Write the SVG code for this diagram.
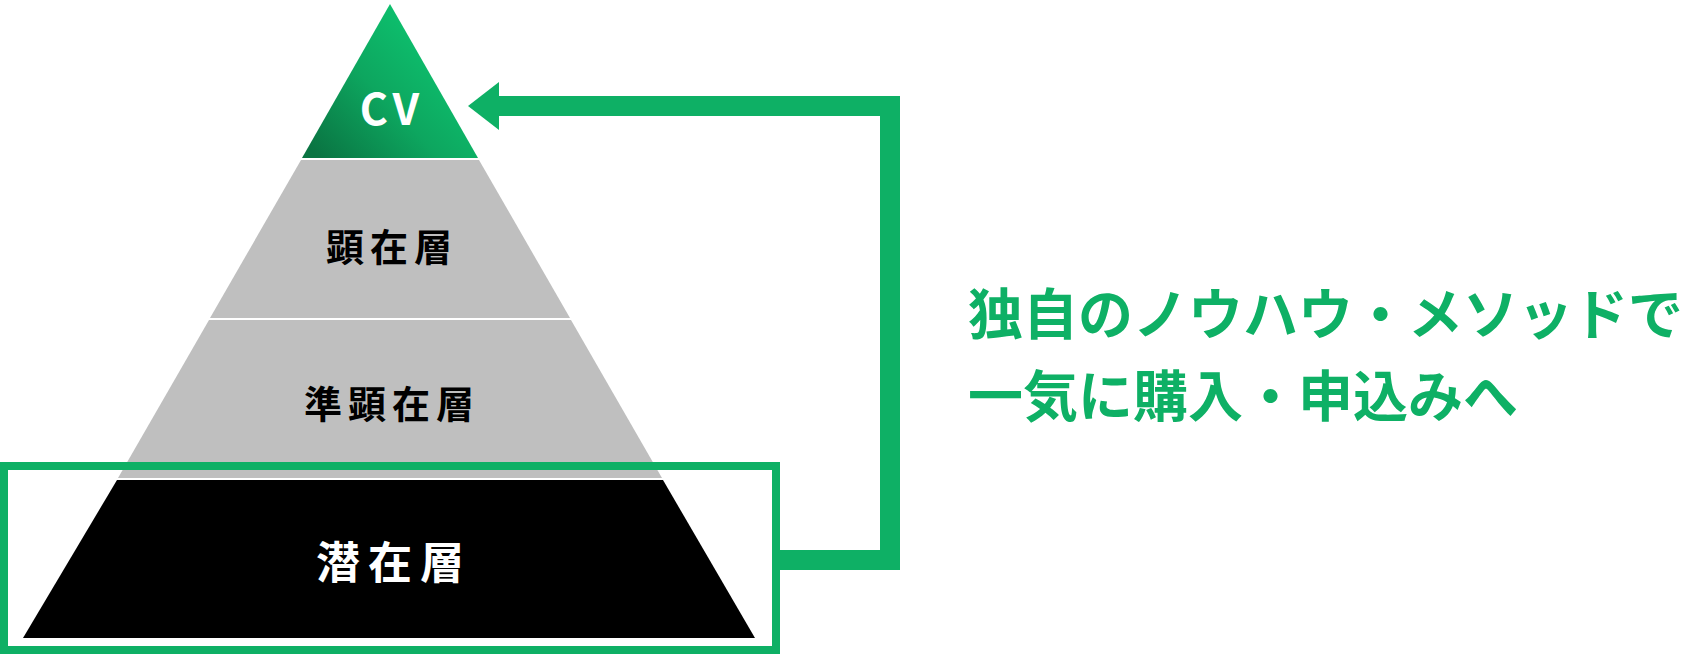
<svg xmlns="http://www.w3.org/2000/svg" width="1694" height="654" viewBox="0 0 1694 654">
<style>
.jp{font-family:"Noto Sans CJK JP","Noto Sans",sans-serif;font-weight:700;text-anchor:middle;dominant-baseline:central}
.gray{fill:#BFBFBF}
.line{fill:none;stroke:#0EB065;stroke-width:20}
.box{fill:none;stroke:#0EB065;stroke-width:8}
.msg{font-family:"Noto Sans CJK JP","Noto Sans",sans-serif;font-weight:700;font-size:55px;fill:#0EB065;dominant-baseline:central}
</style>
<defs>
<linearGradient id="cvg" x1="1" y1="0.25" x2="0.1" y2="1">
<stop offset="0" stop-color="#0DCB74"/>
<stop offset="0.55" stop-color="#0DA65F"/>
<stop offset="1" stop-color="#0A7442"/>
</linearGradient>
</defs>
<rect width="1694" height="654" fill="#fff"/>
<g id="cv">
<polygon points="390,4 478,158 302,158" fill="url(#cvg)"/>
<text class="jp" x="392" y="106" font-size="43" fill="#fff" style="letter-spacing:5px">CV</text>
</g>
<g id="kenzai">
<polygon class="gray" points="301,160 479,160 570,318 210,318"/>
<text class="jp" x="392" y="244" font-size="38" fill="#000" style="letter-spacing:6px">顕在層</text>
</g>
<g id="junkenzai">
<polygon class="gray" points="209,320 571,320 662,478 118,478"/>
<text class="jp" x="392" y="401" font-size="38" fill="#000" style="letter-spacing:6px">準顕在層</text>
</g>
<g id="senzai">
<polygon points="117,480 663,480 755,638 23,638" fill="#000"/>
<text class="jp" x="394" y="560" font-size="44" fill="#fff" style="letter-spacing:8px">潜在層</text>
</g>
<g id="highlight">
<rect class="box" x="4" y="466" width="772" height="184"/>
</g>
<g id="connectors">
<path class="line" d="M780,560 H890 V106 H497"/>
<polygon points="468,106 499,82 499,130" fill="#0EB065"/>
</g>
<g id="message">
<text class="msg" x="968" y="310">独自のノウハウ・メソッドで</text>
<text class="msg" x="968" y="392">一気に購入・申込みへ</text>
</g>
</svg>
